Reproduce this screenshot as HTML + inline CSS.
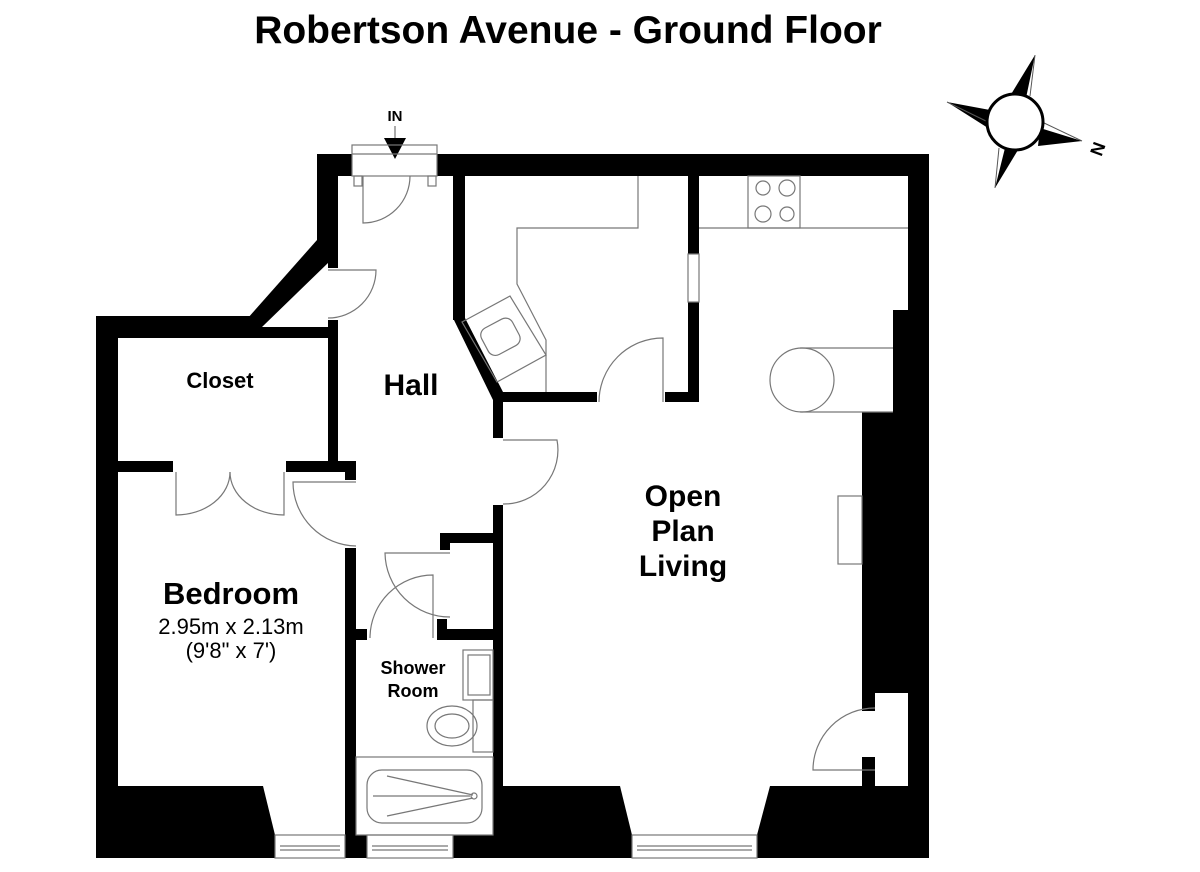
<!DOCTYPE html>
<html><head><meta charset="utf-8"><style>
html,body{margin:0;padding:0;background:#fff;width:1200px;height:872px;overflow:hidden}
svg{display:block}
text{font-family:"Liberation Sans",Arial,sans-serif;font-weight:bold;fill:#000}
</style></head><body>
<svg width="1200" height="872" viewBox="0 0 1200 872" xmlns="http://www.w3.org/2000/svg">
<text x="568" y="43" font-size="39" text-anchor="middle">Robertson Avenue - Ground Floor</text>

<!-- compass -->
<g>
<polygon points="1035,55 1010,96 1026,98" fill="#000"/>
<line x1="1035" y1="55" x2="1030" y2="96" stroke="#555" stroke-width="1"/>
<polygon points="947,102 990,110 988,128" fill="#000"/>
<line x1="947" y1="102" x2="988" y2="122" stroke="#555" stroke-width="1"/>
<polygon points="1082,141 1040,128 1038,146" fill="#000"/>
<line x1="1082" y1="141" x2="1042" y2="122" stroke="#555" stroke-width="1"/>
<polygon points="995,188 1005,148 1018,150" fill="#000"/>
<line x1="995" y1="188" x2="999" y2="148" stroke="#555" stroke-width="1"/>
<circle cx="1015" cy="122" r="28" fill="#fff" stroke="#000" stroke-width="3"/>
<text x="1098" y="155" font-size="18" text-anchor="middle" transform="rotate(-70 1098 149)">N</text>
</g>

<!-- IN -->
<text x="395" y="121" font-size="15" text-anchor="middle">IN</text>
<line x1="395" y1="126" x2="395" y2="140" stroke="#555"/>
<polygon points="384,138 406,138 395,159" fill="#000"/>

<g fill="#000">
<rect x="317" y="154" width="35" height="22"/>
<rect x="437" y="154" width="492" height="22"/>
<rect x="317" y="154" width="21" height="89"/>
<rect x="328" y="240" width="10" height="28"/>
<polygon points="317,240 338,240 329,262 262,327 240,327"/>
<rect x="96" y="316" width="160" height="22"/>
<rect x="240" y="327" width="98" height="11"/>
<rect x="328" y="320" width="10" height="152"/>
<rect x="96" y="316" width="22" height="542"/>
<rect x="96" y="461" width="77" height="11"/>
<rect x="286" y="461" width="70" height="11"/>
<rect x="345" y="461" width="11" height="19"/>
<rect x="345" y="548" width="11" height="310"/>
<rect x="345" y="629" width="22" height="11"/>
<rect x="437" y="629" width="60" height="11"/>
<rect x="437" y="619" width="10" height="12"/>
<rect x="440" y="533" width="57" height="10"/>
<rect x="440" y="533" width="10" height="17"/>
<rect x="453" y="176" width="12" height="144"/>
<polygon points="453,318 465,318 503,392 493,400"/>
<rect x="493" y="392" width="10" height="46"/>
<rect x="493" y="505" width="10" height="353"/>
<rect x="497" y="392" width="100" height="10"/>
<rect x="665" y="392" width="34" height="10"/>
<rect x="688" y="176" width="11" height="78"/>
<rect x="688" y="302" width="11" height="100"/>
<rect x="908" y="154" width="21" height="704"/>
<rect x="893" y="310" width="20" height="102"/>
<rect x="862" y="412" width="50" height="281"/>
<rect x="862" y="693" width="13" height="18"/>
<rect x="862" y="757" width="13" height="30"/>
<polygon points="96,786 263,786 275,835 275,858 96,858"/>
<rect x="345" y="835" width="22" height="23"/>
<rect x="453" y="835" width="50" height="23"/>
<polygon points="493,786 620,786 632,835 632,858 493,858"/>
<polygon points="770,786 929,786 929,858 757,858 757,835"/>
</g>

<g fill="none" stroke="#777" stroke-width="1.2">
<rect x="352" y="145" width="85" height="31"/>
<line x1="352" y1="154" x2="437" y2="154"/>
<rect x="354" y="176" width="8" height="10"/><rect x="428" y="176" width="8" height="10"/>
<rect x="688" y="254" width="11" height="48"/>
<rect x="275" y="835" width="70" height="23"/><line x1="280" y1="846" x2="340" y2="846"/><line x1="280" y1="850" x2="340" y2="850"/>
<rect x="367" y="835" width="86" height="23"/><line x1="372" y1="846" x2="448" y2="846"/><line x1="372" y1="850" x2="448" y2="850"/>
<rect x="632" y="835" width="125" height="23"/><line x1="637" y1="846" x2="752" y2="846"/><line x1="637" y1="850" x2="752" y2="850"/>
<path d="M363,176 V223 A47,47 0 0 0 410,176"/>
<path d="M328,270 H376 A48,48 0 0 1 328,318"/>
<path d="M663,402 V338 A64,64 0 0 0 599,402"/>
<path d="M503,440 H557 A54,54 0 0 1 503,504"/>
<path d="M356,482 H293 A64,64 0 0 0 356,546"/>
<path d="M176,472 V515 A54,43 0 0 0 230,472"/>
<path d="M284,472 V515 A54,43 0 0 1 230,472"/>
<path d="M450,553 H385 A65,65 0 0 0 450,617"/>
<path d="M433,638 V575 A63,63 0 0 0 370,638"/>
<path d="M875,770 H813 A62,62 0 0 1 875,708"/>
<path d="M638,176 V228 H517 V284 L546,340 V392"/>
<polygon points="462,322 510,296 546,355 497,382"/>
<rect x="483" y="322" width="35" height="30" rx="8" transform="rotate(-28 500 337)"/>
<line x1="699" y1="228" x2="908" y2="228"/>
<rect x="748" y="176" width="52" height="52"/>
<circle cx="763" cy="188" r="7"/><circle cx="787" cy="188" r="8"/>
<circle cx="763" cy="214" r="8"/><circle cx="787" cy="214" r="7"/>
<path d="M800,348 H893 M800,412 H893"/>
<ellipse cx="802" cy="380" rx="32" ry="32"/>
<rect x="838" y="496" width="24" height="68"/>
<rect x="463" y="650" width="30" height="50"/>
<rect x="468" y="655" width="22" height="40"/>
<rect x="473" y="700" width="20" height="52"/>
<ellipse cx="452" cy="726" rx="25" ry="20"/>
<ellipse cx="452" cy="726" rx="17" ry="12"/>
<rect x="356" y="757" width="137" height="78"/>
<rect x="367" y="770" width="115" height="53" rx="15"/>
<path d="M387,776 L473,795 M373,796 H470 M387,816 L473,798"/>
<circle cx="474" cy="796" r="3"/>
</g>

<text x="220" y="388" font-size="22" text-anchor="middle">Closet</text>
<text x="411" y="395" font-size="30" text-anchor="middle">Hall</text>
<text x="683" y="506" font-size="30" text-anchor="middle">Open</text>
<text x="683" y="541" font-size="30" text-anchor="middle">Plan</text>
<text x="683" y="576" font-size="30" text-anchor="middle">Living</text>
<text x="231" y="604" font-size="31" text-anchor="middle">Bedroom</text>
<text x="231" y="634" font-size="22" text-anchor="middle" style="font-weight:normal">2.95m x 2.13m</text>
<text x="231" y="658" font-size="22" text-anchor="middle" style="font-weight:normal">(9'8" x 7')</text>
<text x="413" y="674" font-size="18" text-anchor="middle">Shower</text>
<text x="413" y="697" font-size="18" text-anchor="middle">Room</text>
</svg>
</body></html>
